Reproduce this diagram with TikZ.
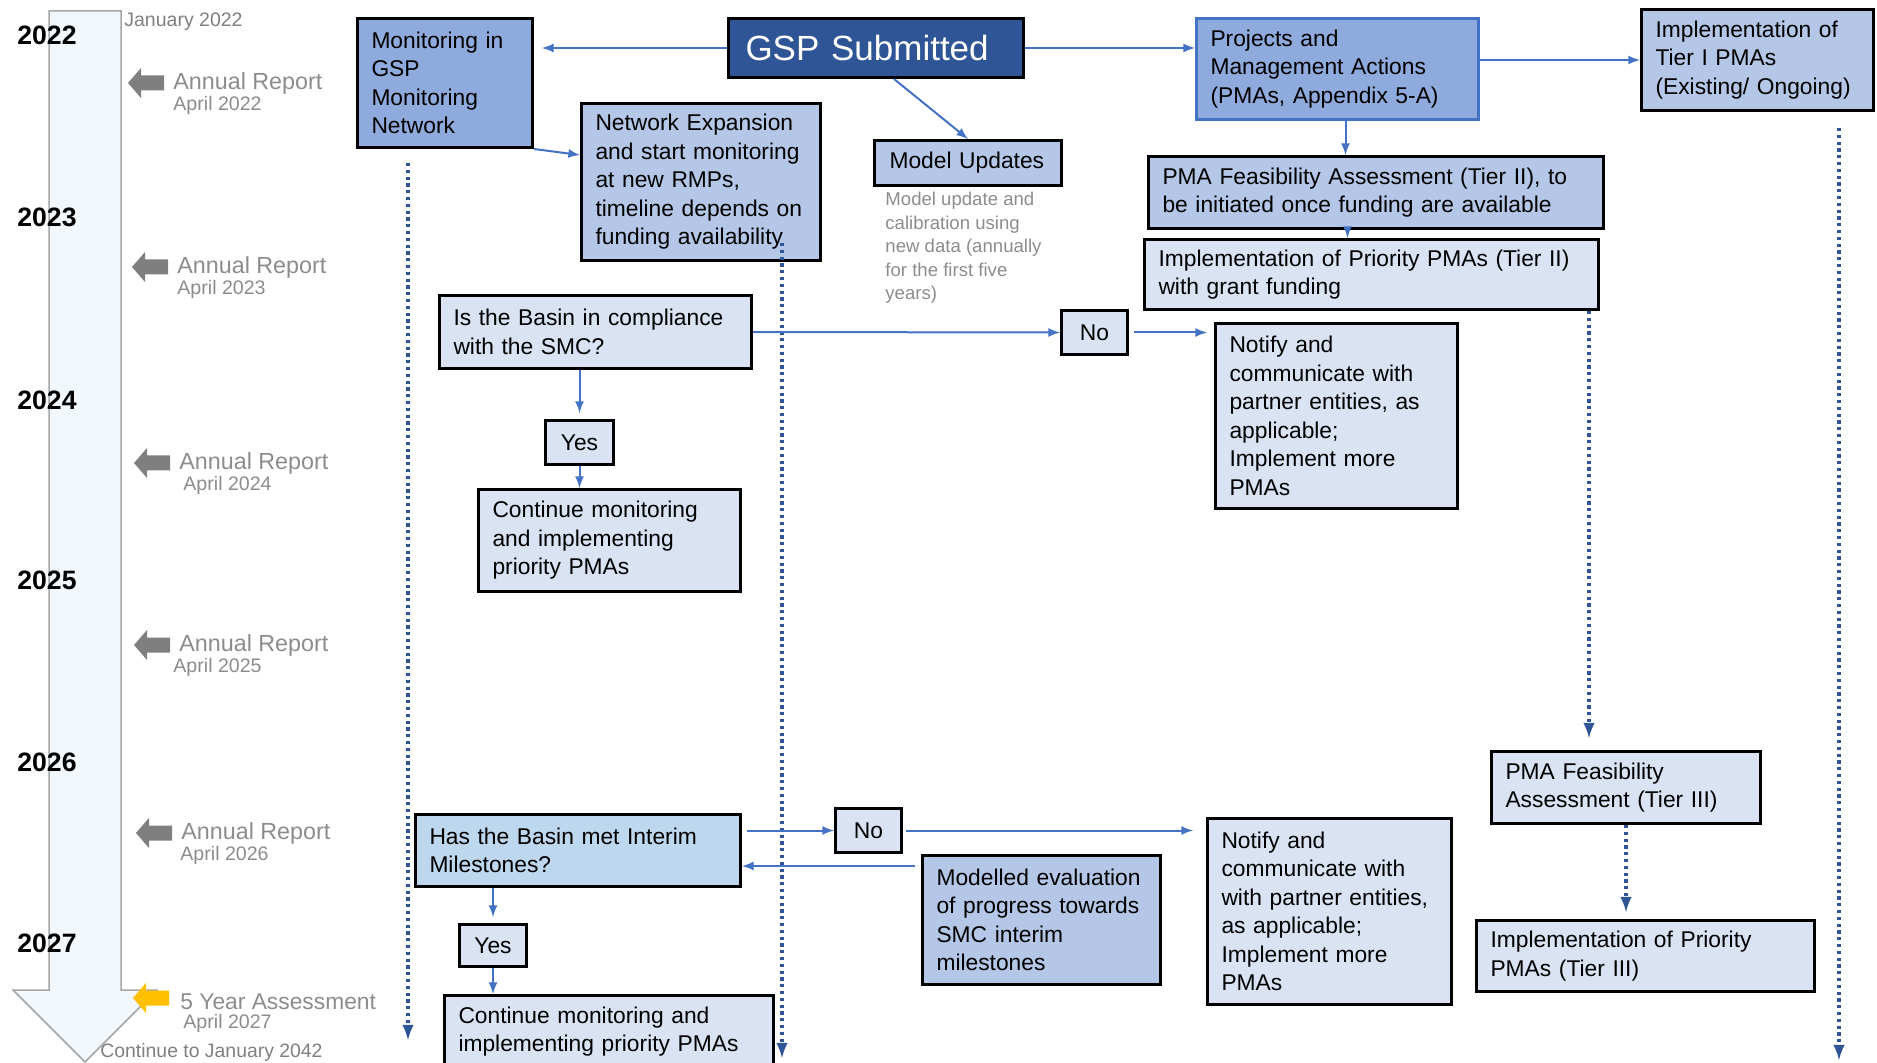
\documentclass[tikz,border=0pt]{standalone}
\usepackage{fontspec}
\setmainfont{Liberation Sans}
\usepackage{tikz}
\usetikzlibrary{positioning}
\definecolor{gspblue}{HTML}{2F5597}
\definecolor{midblue}{HTML}{8FAADC}
\definecolor{softblue}{HTML}{B4C7E7}
\definecolor{paleblue}{HTML}{DAE3F3}
\definecolor{skyblue}{HTML}{BDD7EE}
\definecolor{linkblue}{HTML}{4472C4}
\definecolor{reportgray}{HTML}{7F7F7F}
\definecolor{labelgray}{HTML}{8C8C8C}
\definecolor{barfill}{HTML}{F2F7FC}
\definecolor{assessgold}{HTML}{FFC000}
\newcommand{\bxfont}{\fontsize{11.4}{14.25}\selectfont}
\tikzset{box/.style={draw=black,line width=1.5pt,anchor=north west,align=left,inner xsep=7pt,inner ysep=2pt,font=\bxfont},
         tag/.style={draw=black,line width=1.5pt,anchor=north west,align=center,inner sep=0pt,fill=paleblue,font=\bxfont},
         conn/.style={-latex,draw=linkblue,line width=1pt},
         dotconn/.style={-latex,draw=gspblue,line width=1.6pt,dash pattern=on 1.6pt off 1.8pt},
         greylabel/.style={anchor=west,inner sep=0pt,text=labelgray}
}

\begin{document}
\begin{tikzpicture}[x=0.5pt,y=-0.5pt]
\useasboundingbox (0,0) rectangle (1877,1063);

\draw[draw=gray!70,fill=barfill,line width=0.75pt] (49,11) -- (121,11) -- (121,990) -- (157,990) -- (85,1062) -- (13,990) -- (49,990) -- cycle;
\foreach \yr/\yy in {2022/35,2023/217,2024/400,2025/580,2026/762,2027/943}
  \node[font=\fontsize{13.3}{16}\selectfont\bfseries] (y\yr) at (47,\yy) {\yr};
\node[greylabel,text=reportgray,font=\fontsize{9.75}{12}\selectfont] (jan) at (124,22) {January 2022};
\foreach \yr/\tx/\ty/\ax in {2022/128/83/173,2023/132/267/177,2024/134/463/183,2025/134/645/173,2026/136/833/180}{
  \fill[reportgray] (\tx,\ty) -- ++(13,-15) -- ++(0,7.5) -- ++(23,0) -- ++(0,15) -- ++(-23,0) -- ++(0,7.5) -- cycle;
  \node[greylabel,font=\fontsize{11.65}{14}\selectfont] (ar\yr) at (\tx+45,\ty) {Annual Report};
  \node[greylabel,font=\fontsize{9.8}{12}\selectfont] (apr\yr) at (\ax,\ty+22) {April \yr};
}
\fill[assessgold] (133,998) -- ++(13,-15) -- ++(0,7.5) -- ++(23,0) -- ++(0,15) -- ++(-23,0) -- ++(0,7.5) -- cycle;
\node[greylabel,font=\fontsize{11.4}{14}\selectfont] (assess) at (180,1002) {5 Year Assessment};
\node[greylabel,font=\fontsize{9.8}{12}\selectfont] (apr2027) at (183,1023) {April 2027};
\node[greylabel,text=reportgray,font=\fontsize{9.7}{12}\selectfont] (cont2042) at (100,1052) {Continue to January 2042};

\node[box,fill=midblue,text width=73.5pt,minimum height=64.5pt] (mon) at (356,17) {Monitoring in\\GSP\\Monitoring\\Network};
\node[box,fill=gspblue,text=white,font=\fontsize{17.5}{21}\selectfont,inner xsep=8.5pt,text width=130.5pt,minimum height=29.5pt] (gsp) at (727,17) {GSP Submitted};
\node[box,fill=softblue,text width=105.5pt,minimum height=78.5pt] (netx) at (580,102) {Network Expansion\\and start monitoring\\at new RMPs,\\timeline depends on\\funding availability};
\node[box,fill=softblue,inner xsep=7.5pt,text width=78.5pt,minimum height=22.5pt] (model) at (873,139) {Model Updates};
\node[anchor=north west,align=left,inner sep=0pt,text=labelgray,font=\fontsize{9.3}{11.75}\selectfont] (modelnote) at (885,192) {Model update and\\calibration using\\new data (annually\\for the first five\\years)};
\node[box,draw=linkblue,fill=midblue,text width=127pt,minimum height=50.5pt] (pma) at (1195,17) {Projects and\\Management Actions\\(PMAs, Appendix 5-A)};
\node[box,fill=softblue,text width=102pt,minimum height=50.5pt] (tierone) at (1640,8) {Implementation of\\Tier I PMAs\\(Existing/ Ongoing)};
\node[box,fill=softblue,text width=213.5pt,minimum height=36pt] (feastwo) at (1147,155) {PMA Feasibility Assessment (Tier II), to\\be initiated once funding are available};
\node[box,fill=paleblue,text width=213pt,minimum height=35pt] (impltwo) at (1143,238) {Implementation of Priority PMAs (Tier II)\\with grant funding};
\node[box,fill=paleblue,text width=142pt,minimum height=36.5pt] (comply) at (438,294) {Is the Basin in compliance\\with the SMC?};
\node[tag,minimum width=34pt,minimum height=22pt] (yesone) at (544,419) {Yes};
\node[box,fill=paleblue,text width=117pt,minimum height=51pt] (contone) at (477,488) {Continue monitoring\\and implementing\\priority PMAs};
\node[tag,minimum width=33pt,minimum height=22pt] (noone) at (1060,309) {No};
\node[box,fill=paleblue,text width=107pt,minimum height=92.5pt] (notifyone) at (1214,322) {Notify and\\communicate with\\partner entities, as\\applicable;\\Implement more\\PMAs};
\node[box,fill=skyblue,text width=148.5pt,minimum height=36pt] (met) at (414,813) {Has the Basin met Interim\\Milestones?};
\node[tag,minimum width=33pt,minimum height=22pt] (notwo) at (834,807) {No};
\node[box,fill=softblue,text width=105pt,minimum height=64.5pt] (modeval) at (921,854) {Modelled evaluation\\of progress towards\\SMC interim\\milestones};
\node[tag,minimum width=33.5pt,minimum height=21pt] (yestwo) at (458,923) {Yes};
\node[box,fill=paleblue,text width=150.5pt,minimum height=36pt] (conttwo) at (443,994) {Continue monitoring and\\implementing priority PMAs};
\node[box,fill=paleblue,text width=108pt,minimum height=93pt] (notifytwo) at (1206,817) {Notify and\\communicate with\\with partner entities,\\as applicable;\\Implement more\\PMAs};
\node[box,fill=paleblue,text width=120.5pt,minimum height=36pt] (feasthree) at (1490,750) {PMA Feasibility\\Assessment (Tier III)};
\node[box,fill=paleblue,text width=155pt,minimum height=35.5pt] (implthree) at (1475,919) {Implementation of Priority\\PMAs (Tier III)};

\coordinate (monend) at (408,1040);
\coordinate (netxend) at (782,1058);
\coordinate (tieroneend) at (1839,1060);

\draw[conn,shorten >=4pt] (gsp.west) -- (gsp.west -| mon.east);
\draw[conn] (mon.south east) -- ([yshift=-26.5pt]netx.north west);
\draw[conn] ([xshift=9pt]gsp.south) -- (model.north);
\draw[conn] (gsp.east) -- (gsp.east -| pma.west);
\draw[conn] (pma.east |- tierone.west) -- (tierone.west);
\draw[conn] ([xshift=4pt]pma.south) -- ([xshift=4pt]pma.south |- feastwo.north);
\draw[conn] ([xshift=5pt]pma.south |- feastwo.south) -- ([xshift=5pt]pma.south |- impltwo.north);
\draw[dotconn,shorten >=6pt] ([xshift=-5.5pt]impltwo.south east) -- ([xshift=-5.5pt]impltwo.south east |- feasthree.north);
\draw[dotconn] ([yshift=-8pt]tierone.south -| tieroneend) -- (tieroneend);
\draw[dotconn] ([yshift=-7pt]mon.south -| monend) -- (monend);
\draw[dotconn] ([yshift=9.5pt]netx.south -| netxend) -- (netxend);
\draw[conn] (comply.east) -- (noone.west);
\draw[conn,shorten >=3pt] (yesone.north |- comply.south) -- (yesone.north);
\draw[conn] (yesone.south) -- (yesone.south |- contone.north);
\draw[conn,shorten <=2.5pt,shorten >=3.5pt] (noone.east) -- (noone.east -| notifyone.west);
\draw[conn,shorten <=2.5pt] (notwo.west -| met.east) -- (notwo.west);
\draw[conn,shorten <=1.5pt,shorten >=6.5pt] (notwo.east) -- (notwo.east -| notifytwo.west);
\draw[conn,shorten <=3pt] ([yshift=-6pt]modeval.north west) -- ([yshift=-6pt]modeval.north west -| met.east);
\draw[conn,shorten >=3pt] (yestwo.north |- met.south) -- (yestwo.north);
\draw[conn] (yestwo.south) -- (yestwo.south |- conttwo.north);
\draw[dotconn,shorten >=3.5pt] (feasthree.south) -- (feasthree.south |- implthree.north);

\end{tikzpicture}
\end{document}
